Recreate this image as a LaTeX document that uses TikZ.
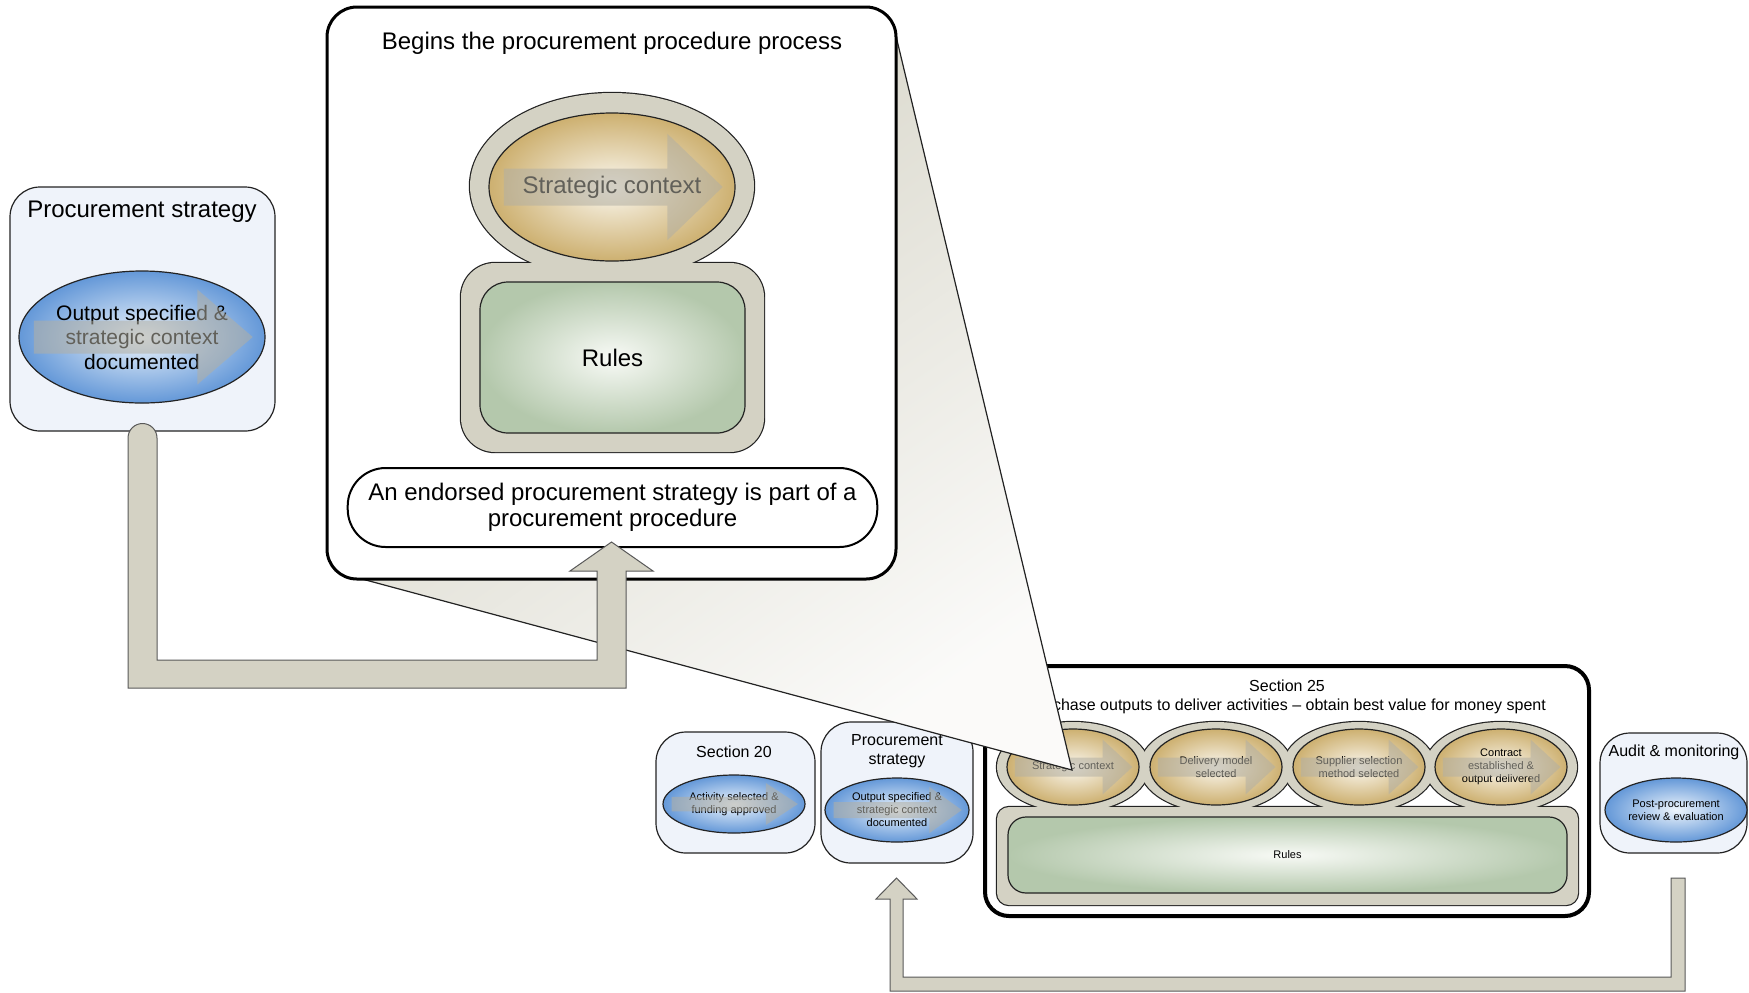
\documentclass[tikz,border=0pt]{standalone}
\usepackage{fontspec}
\setmainfont{Liberation Sans}
\usetikzlibrary{calc,shapes.geometric}

\definecolor{beigeband}{RGB}{212,210,196}
\definecolor{goldout}{RGB}{205,176,112}
\definecolor{goldin}{RGB}{251,248,240}
\definecolor{blueout}{RGB}{100,152,216}
\definecolor{bluein}{RGB}{238,245,252}
\definecolor{greenout}{RGB}{180,200,172}
\definecolor{greenin}{RGB}{248,250,246}
\definecolor{paleback}{RGB}{239,243,250}
\definecolor{arrowgrey}{RGB}{178,175,163}
\definecolor{linegrey}{RGB}{35,35,35}

\def\ellarrow(#1,#2)(#3:#4){%
  \begin{scope}[shift={(#1,#2)}]
    \fill[arrowgrey, fill opacity=0.55] (-0.88*#3,-0.25*#4) -- (0.45*#3,-0.25*#4) -- (0.45*#3,-0.72*#4)
      -- (0.9*#3,0) -- (0.45*#3,0.72*#4) -- (0.45*#3,0.25*#4) -- (-0.88*#3,0.25*#4) -- cycle;
  \end{scope}}

\begin{document}
\begin{tikzpicture}[x=0.5pt, y=-0.5pt,
    lightbox/.style={draw=linegrey, line width=0.6pt, fill=paleback, rounded corners=15pt},
    goldell/.style={ellipse, draw=linegrey, line width=0.6pt, inner sep=0pt, inner color=goldin, outer color=goldout},
    blueell/.style={ellipse, draw=linegrey, line width=0.6pt, inner sep=0pt, inner color=bluein, outer color=blueout},
    greenbox/.style={draw=linegrey, line width=0.6pt, inner sep=0pt, inner color=greenin, outer color=greenout},
    pipe/.style={fill=beigeband, draw=black!65, line width=0.5pt},
    bigtxt/.style={font=\fontsize{12}{13}\selectfont, align=center, inner sep=0pt},
    midtxt/.style={font=\fontsize{8}{9.5}\selectfont, align=center, inner sep=0pt},
    smalltxt/.style={font=\fontsize{5.5}{6.5}\selectfont, align=center, inner sep=0pt}]
  %%%%% START %%%%%
  \useasboundingbox (0,0) rectangle (1749,992);

  % left: procurement strategy
  \draw[lightbox] (10,187) rectangle (275,431);
  \node[bigtxt] (leftTitle) at (142,212) {Procurement strategy};
  \node[blueell, minimum width=123pt, minimum height=66pt] (leftEll) at (142,337) {};
  \node[font=\fontsize{10.5}{12.25}\selectfont, align=center, inner sep=0pt] (leftText) at (leftEll) {Output specified \&\\strategic context\\documented};
  \ellarrow(142,337)(123:66)

  % bottom row: section 20
  \draw[lightbox] (656,732) rectangle (815,853);
  \node[midtxt] (secTwentyTitle) at (734,752) {Section 20};
  \node[blueell, minimum width=71pt, minimum height=29pt] (secTwentyEll) at (734,804) {};
  \node[smalltxt] (secTwentyText) at (secTwentyEll) {Activity selected \&\\funding approved};
  \ellarrow(734,804)(71:29)

  % bottom row: procurement strategy
  \draw[lightbox] (821,722) rectangle (973,863);
  \node[midtxt] (stratTitle) at (897,751) {Procurement\\strategy};
  \node[blueell, minimum width=72pt, minimum height=32pt] (stratEll) at (897,810) {};
  \node[smalltxt] (stratText) at (stratEll) {Output specified \&\\strategic context\\documented};
  \ellarrow(897,810)(72:32)

  % bottom row: audit
  \draw[lightbox] (1600,733) rectangle (1747,853);
  \node[midtxt] (auditTitle) at (1674,752) {Audit \& monitoring};
  \node[blueell, minimum width=71pt, minimum height=32pt] (auditEll) at (1676,810) {};
  \node[smalltxt] (auditText) at (auditEll) {Post-procurement\\review \& evaluation};

  % section 25
  \draw[line width=2pt, fill=white, rounded corners=12pt] (985,666) rectangle (1589,916);
  \node[midtxt] (secTwentyFiveTitle) at (1287,697) {Section 25\\Purchase outputs to deliver activities – obtain best value for money spent};
  \draw[linegrey, line width=1.2pt] (1073,767) ellipse (38pt and 22.5pt);
  \draw[linegrey, line width=1.2pt] (1216,767) ellipse (38pt and 22.5pt);
  \draw[linegrey, line width=1.2pt] (1359,767) ellipse (38pt and 22.5pt);
  \draw[linegrey, line width=1.2pt] (1501,767) ellipse (38pt and 22.5pt);
  \draw[linegrey, line width=1.2pt, rounded corners=6pt] (997,807) rectangle (1578,905);
  \fill[beigeband] (1073,767) ellipse (38pt and 22.5pt);
  \fill[beigeband] (1216,767) ellipse (38pt and 22.5pt);
  \fill[beigeband] (1359,767) ellipse (38pt and 22.5pt);
  \fill[beigeband] (1501,767) ellipse (38pt and 22.5pt);
  \fill[beigeband, rounded corners=6pt] (997,807) rectangle (1578,905);

  \node[goldell, minimum width=66pt, minimum height=38pt] (ctxEll) at (1073,767) {};
  \node[smalltxt] (ctxText) at (ctxEll) {Strategic context};
  \ellarrow(1073,767)(66:38)
  \node[goldell, minimum width=66pt, minimum height=38pt] (deliveryEll) at (1216,767) {};
  \node[smalltxt] (deliveryText) at (deliveryEll) {Delivery model\\selected};
  \ellarrow(1216,767)(66:38)
  \node[goldell, minimum width=66pt, minimum height=38pt] (supplierEll) at (1359,767) {};
  \node[smalltxt] (supplierText) at (supplierEll) {Supplier selection\\method selected};
  \ellarrow(1359,767)(66:38)
  \node[goldell, minimum width=66pt, minimum height=38pt] (contractEll) at (1501,767) {};
  \node[smalltxt] (contractText) at (contractEll) {Contract\\established \&\\output delivered};
  \ellarrow(1501,767)(66:38)

  \node[greenbox, rounded corners=9pt, minimum width=279.5pt, minimum height=38pt] (rulesBar) at (1287.5,855) {};
  \node[smalltxt] (rulesBarText) at (rulesBar) {Rules};

  % zoom wedge
  \fill[top color=beigeband, bottom color=beigeband!10, shading angle=35] (362,579) -- (896,36) -- (1072,770) -- cycle;
  \draw[linegrey, line width=0.6pt] (362,579) -- (1072,770) -- (896,36);

  % callout
  \draw[line width=1.5pt, fill=white, rounded corners=15pt] (327,7) rectangle (896,579);
  \node[bigtxt] (calloutTitle) at (612,43) {Begins the procurement procedure process};
  \draw[linegrey, line width=1.2pt] (612,186) ellipse (71pt and 46.5pt);
  \draw[linegrey, line width=1.2pt, rounded corners=17pt] (461,263) rectangle (764,452);
  \fill[beigeband] (612,186) ellipse (71pt and 46.5pt);
  \fill[beigeband, rounded corners=17pt] (461,263) rectangle (764,452);
  \node[goldell, minimum width=123pt, minimum height=74pt] (calloutEll) at (612,187) {};
  \node[bigtxt] (calloutEllText) at (calloutEll) {Strategic context};
  \ellarrow(612,187)(123:74)
  \node[greenbox, rounded corners=14pt, minimum width=132.5pt, minimum height=75.5pt] (calloutRules) at (612.5,357.5) {};
  \node[bigtxt] (calloutRulesText) at (calloutRules) {Rules};
  \node[draw, line width=1pt, fill=white, rounded corners=19pt, minimum width=264.8pt, minimum height=39.5pt, bigtxt] (calloutNote) at (612.5,507.5) {An endorsed procurement strategy is part of a\\procurement procedure};

  % pipes
  \draw[pipe] (128,438) arc (180:0:7.25pt) -- (157,660) -- (597,660) -- (597,571) -- (570,571) -- (611.5,542)
    -- (653,571) -- (626,571) -- (626,688) -- (128,688) -- cycle;
  \draw[pipe] (1685,878) -- (1685,991) -- (890,991) -- (890,899) -- (876,899) -- (896.5,878) -- (917,899)
    -- (903,899) -- (903,977) -- (1671,977) -- (1671,878) -- cycle;
  %%%%% END %%%%%
\end{tikzpicture}
\end{document}
